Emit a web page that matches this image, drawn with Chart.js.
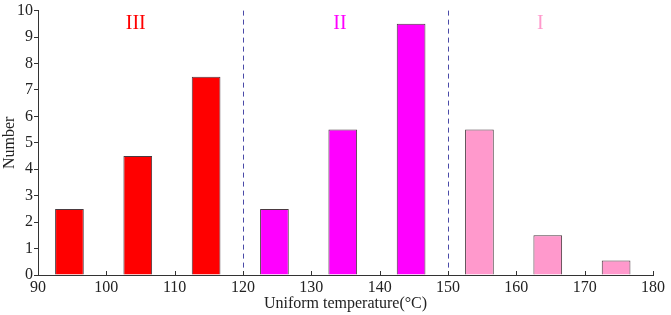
<!DOCTYPE html>
<html lang="en">
<head>
  <meta charset="UTF-8">
  <title>Uniform temperature histogram</title>
  <script src="https://cdn.jsdelivr.net/npm/chart.js@4.4.0/dist/chart.umd.min.js"></script>
  <style>
    body { margin: 0; background: #fff; }
    #wrap { width: 671px; height: 315px; }
  </style>
</head>
<body>
  <div id="wrap"><canvas id="histChart"></canvas></div>
  <script>
    // bin centres (°C) and counts
    const binCenters = [94.6, 104.6, 114.6, 124.6, 134.6, 144.6, 154.6, 164.6, 174.6];
    const counts = [2.5, 4.5, 7.5, 2.5, 5.5, 9.5, 5.5, 1.5, 0.55];
    const barColors = ['#ff0000', '#ff0000', '#ff0000', '#ff00ff', '#ff00ff', '#ff00ff', '#ff99cc', '#ff99cc', '#ff99cc'];
    const xTicks = [90, 100, 110, 120, 130, 140, 150, 160, 170, 180];
    const yTicks = [0, 1, 2, 3, 4, 5, 6, 7, 8, 9, 10];
    const dividers = [120, 150];
    const regionNames = ['III', 'II', 'I'];
    const regionPos = [104.3, 134.2, 163.5];
    const regionColors = ['#ff0000', '#ff00ff', '#ff99cc'];

    const serif = "'Liberation Serif', 'DejaVu Serif', serif";

    // dashed dividers, region names and inward x ticks
    const extras = {
      id: 'extras',
      afterDatasetsDraw(chart) {
        const ctx = chart.ctx;
        const xs = chart.scales.x, ys = chart.scales.y;
        const top = chart.chartArea.top, bottom = chart.chartArea.bottom;
        ctx.save();
        ctx.strokeStyle = '#4a4aa8';
        ctx.lineWidth = 1;
        ctx.setLineDash([5, 4]);
        dividers.forEach(v => {
          const px = Math.round(xs.getPixelForValue(v)) + 0.5;
          ctx.beginPath();
          ctx.moveTo(px, top);
          ctx.lineTo(px, bottom);
          ctx.stroke();
        });
        ctx.setLineDash([]);
        ctx.strokeStyle = '#333';
        xTicks.forEach(v => {
          const px = Math.round(xs.getPixelForValue(v)) + 0.5;
          ctx.beginPath();
          ctx.moveTo(px, bottom);
          ctx.lineTo(px, bottom - 4);
          ctx.stroke();
        });
        ctx.font = "20px " + serif;
        ctx.textAlign = 'center';
        ctx.textBaseline = 'middle';
        regionNames.forEach((t, i) => {
          ctx.fillStyle = regionColors[i];
          ctx.fillText(t, xs.getPixelForValue(regionPos[i]), ys.getPixelForValue(9.5));
        });
        ctx.restore();
      }
    };

    new Chart(document.getElementById('histChart'), {
      type: 'bar',
      data: {
        datasets: [{
          data: binCenters.map((x, i) => ({ x: x, y: counts[i] })),
          backgroundColor: barColors,
          borderColor: '#4a3a40',
          borderWidth: 1,
          borderSkipped: 'bottom',
          categoryPercentage: 1,
          barPercentage: 0.42
        }]
      },
      options: {
        responsive: true,
        maintainAspectRatio: false,
        animation: false,
        layout: { padding: { top: 7, right: 18, left: 0, bottom: 0 } },
        plugins: { legend: { display: false }, tooltip: { enabled: false } },
        scales: {
          x: {
            type: 'linear',
            offset: false,
            min: 90,
            max: 180,
            afterBuildTicks: s => { s.ticks = xTicks.map(v => ({ value: v })); },
            afterFit: s => { s.height = 40; },
            grid: { drawOnChartArea: false, drawTicks: false, offset: false },
            border: { color: '#333', width: 1 },
            ticks: { color: '#222', font: { family: serif, size: 16 }, padding: 3 },
            title: {
              display: true,
              text: 'Uniform temperature(°C)',
              color: '#222',
              font: { family: serif, size: 16 },
              padding: { top: 0, bottom: 2 }
            }
          },
          y: {
            min: 0,
            max: 10,
            afterBuildTicks: s => { s.ticks = yTicks.map(v => ({ value: v })); },
            afterFit: s => { s.width = 38; },
            grid: { drawOnChartArea: false, drawTicks: true, tickLength: 4, color: '#333' },
            border: { color: '#333', width: 1 },
            ticks: { color: '#222', font: { family: serif, size: 16 }, padding: 1 },
            title: {
              display: true,
              text: 'Number',
              color: '#222',
              font: { family: serif, size: 16 },
              padding: { top: 0, bottom: 0 }
            }
          }
        }
      },
      plugins: [extras]
    });
  </script>
</body>
</html>
